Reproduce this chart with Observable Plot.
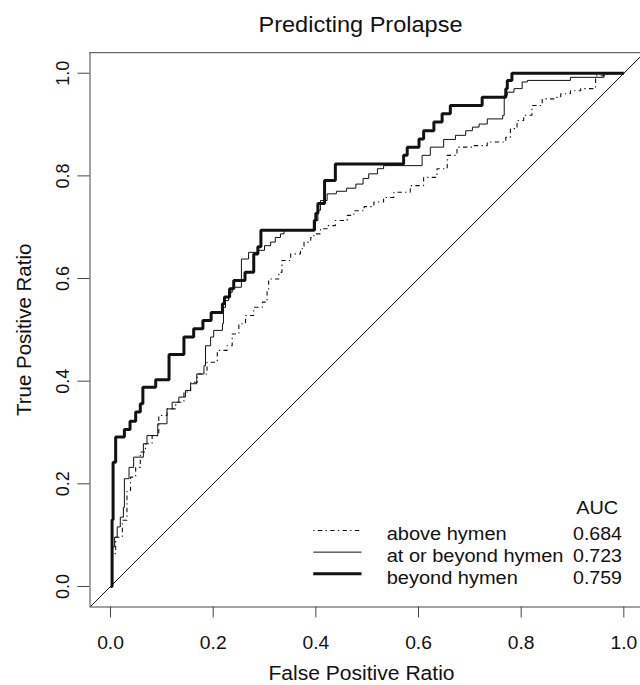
<!DOCTYPE html>
<html>
<head>
<meta charset="utf-8">
<script src="https://cdn.jsdelivr.net/npm/d3@7"></script>
<script src="https://cdn.jsdelivr.net/npm/@observablehq/plot@0.6"></script>
<style>
html, body { margin: 0; padding: 0; background: #fff; }
#chart svg { display: block; }
</style>
</head>
<body>
<div id="chart"></div>
<script>
// ---------- data ----------
const chartTitle = "Predicting Prolapse";
const xLabel = "False Positive Ratio";
const yLabel = "True Positive Ratio";
const seriesNames = ["above hymen", "at or beyond hymen", "beyond hymen"];
const aucHeader = "AUC";
const aucValues = ["0.684", "0.723", "0.759"];
const xTicks = [0, 0.2, 0.4, 0.6, 0.8, 1.0];
const yTicks = [0, 0.2, 0.4, 0.6, 0.8, 1.0];

// ROC curve corners (step-after)
const aboveFPR = [0, 0.003, 0.010, 0.023, 0.032, 0.039, 0.049, 0.058, 0.068, 0.081,
  0.094, 0.110, 0.127, 0.143, 0.156, 0.169, 0.188, 0.208, 0.227, 0.237,
  0.250, 0.263, 0.279, 0.296, 0.305, 0.308, 0.328, 0.334, 0.351, 0.370,
  0.377, 0.390, 0.396, 0.409, 0.422, 0.438, 0.461, 0.474, 0.494, 0.513,
  0.532, 0.552, 0.584, 0.610, 0.636, 0.656, 0.675, 0.708, 0.734, 0.770,
  0.779, 0.792, 0.805, 0.821, 0.841, 0.864, 0.877, 0.896, 0.916, 0.942,
  0.945, 0.968, 1.0];
const aboveTPR = [0, 0.064, 0.096, 0.129, 0.187, 0.213, 0.232, 0.262, 0.278, 0.294,
  0.333, 0.346, 0.359, 0.379, 0.398, 0.414, 0.437, 0.460, 0.469, 0.492,
  0.512, 0.528, 0.544, 0.554, 0.577, 0.599, 0.612, 0.635, 0.648, 0.658,
  0.671, 0.680, 0.687, 0.697, 0.703, 0.713, 0.723, 0.732, 0.740, 0.749,
  0.758, 0.768, 0.781, 0.797, 0.814, 0.840, 0.856, 0.859, 0.866, 0.875,
  0.892, 0.908, 0.918, 0.937, 0.950, 0.953, 0.960, 0.966, 0.970, 0.973,
  0.995, 0.999, 1.0];

const atFPR = [0, 0.004, 0.008, 0.013, 0.019, 0.025, 0.027, 0.036, 0.045, 0.064,
  0.071, 0.092, 0.110, 0.120, 0.133, 0.146, 0.156, 0.168, 0.182, 0.185,
  0.195, 0.201, 0.218, 0.220, 0.224, 0.230, 0.237, 0.255, 0.269, 0.287,
  0.300, 0.312, 0.321, 0.331, 0.338, 0.399, 0.404, 0.409, 0.422, 0.440,
  0.460, 0.478, 0.492, 0.503, 0.520, 0.532, 0.607, 0.623, 0.649, 0.672,
  0.692, 0.705, 0.718, 0.734, 0.764, 0.767, 0.773, 0.786, 0.802, 0.812,
  0.896, 0.961, 1.0];
const atTPR = [0, 0.077, 0.096, 0.116, 0.135, 0.154, 0.210, 0.232, 0.252, 0.278,
  0.294, 0.317, 0.346, 0.359, 0.369, 0.382, 0.395, 0.414, 0.430, 0.469,
  0.486, 0.499, 0.512, 0.544, 0.557, 0.573, 0.583, 0.638, 0.651, 0.655,
  0.664, 0.671, 0.680, 0.687, 0.694, 0.713, 0.733, 0.752, 0.765, 0.770,
  0.776, 0.784, 0.795, 0.804, 0.814, 0.820, 0.840, 0.856, 0.871, 0.879,
  0.888, 0.895, 0.901, 0.911, 0.918, 0.957, 0.963, 0.970, 0.983, 0.986,
  0.992, 0.999, 1.0];

const beyondFPR = [0, 0.003, 0.005, 0.010, 0.027, 0.038, 0.049, 0.058, 0.063, 0.088,
  0.114, 0.143, 0.162, 0.180, 0.196, 0.218, 0.222, 0.232, 0.240, 0.262,
  0.279, 0.287, 0.293, 0.397, 0.400, 0.404, 0.417, 0.438, 0.571, 0.578,
  0.601, 0.610, 0.630, 0.646, 0.662, 0.724, 0.770, 0.773, 0.782, 1.0];
const beyondTPR = [0, 0.130, 0.242, 0.291, 0.306, 0.322, 0.340, 0.356, 0.388, 0.403,
  0.452, 0.486, 0.502, 0.518, 0.534, 0.551, 0.564, 0.580, 0.596, 0.612,
  0.648, 0.662, 0.694, 0.713, 0.727, 0.746, 0.791, 0.823, 0.840, 0.856,
  0.872, 0.888, 0.905, 0.921, 0.937, 0.953, 0.970, 0.986, 1.0, 1.0];

// ---------- layout / style ----------
const xDomain = [-0.04, 1.0325];
const yDomain = [-0.04, 1.04];
const FONT = "'Liberation Sans', Arial, Helvetica, sans-serif";
const STRETCH = 1.07;           // horizontal text widening
const INK = "#111";
const styles = [
  {width: 1.1, dash: "1.3,3.3,4.4,3.3"},
  {width: 1, dash: null},
  {width: 3, dash: null}
];
const legend = {x1: 0.396, x2: 0.490, top: 0.1091, step: 0.0422, labelX: 0.538, aucX: 0.901, headX: 0.948, headY: 0.161};

const curves = [
  {fpr: aboveFPR, tpr: aboveTPR},
  {fpr: atFPR, tpr: atTPR},
  {fpr: beyondFPR, tpr: beyondTPR}
].map((c, i) => ({
  name: seriesNames[i],
  points: c.fpr.map((x, j) => ({x, y: c.tpr[j]})),
  style: styles[i]
}));

const legendRows = seriesNames.map((name, i) => ({name, auc: aucValues[i], ly: legend.top - i * legend.step, i}));

const marks = [];

// frame (left, bottom, top) as in R's box (right side outside the picture)
marks.push(Plot.ruleX([xDomain[0]], {stroke: "#444", strokeWidth: 1}));
marks.push(Plot.ruleY([yDomain[0], yDomain[1]], {stroke: "#444", strokeWidth: 1}));

// reference diagonal y = x across the plotting region
marks.push(Plot.line([yDomain[0], yDomain[1]], {x: d => d, y: d => d, stroke: INK, strokeWidth: 1, clip: true}));

// ROC curves
for (const c of curves) {
  marks.push(Plot.line(c.points, {
    x: "x", y: "y", curve: "step-after",
    stroke: INK, strokeWidth: c.style.width,
    strokeDasharray: c.style.dash || undefined,
    strokeLinejoin: "miter", strokeLinecap: "butt"
  }));
}

// legend samples
legendRows.forEach((r, i) => {
  marks.push(Plot.ruleY([r], {
    y: "ly", x1: () => legend.x1, x2: () => legend.x2,
    stroke: INK, strokeWidth: styles[i].width,
    strokeDasharray: styles[i].dash || undefined
  }));
});
marks.push(Plot.text(legendRows, {
  x: () => legend.labelX, y: "ly", text: "name", textAnchor: "start",
  lineAnchor: "bottom", dy: 10, fontSize: 18.7, fill: INK
}));
marks.push(Plot.text(legendRows, {
  x: () => legend.aucX, y: "ly", text: "auc", textAnchor: "start",
  lineAnchor: "bottom", dy: 10, fontSize: 18.3, fill: INK
}));
marks.push(Plot.text([aucHeader], {
  x: () => legend.headX, y: () => legend.headY, text: d => d, textAnchor: "middle",
  lineAnchor: "bottom", dy: 10, fontSize: 18.6, fill: INK
}));

// axes
marks.push(Plot.axisX(xTicks, {
  anchor: "bottom", tickSize: 11, tickPadding: 18.5, fontSize: 18,
  tickFormat: d3.format(".1f"), stroke: "#444", fill: INK, label: null
}));
marks.push(Plot.axisY(yTicks, {
  anchor: "left", tickSize: 12, tickPadding: 9.2, tickRotate: -90, fontSize: 18,
  tickFormat: d3.format(".1f"), stroke: "#444", fill: INK, label: null
}));

// title and axis labels
marks.push(Plot.text([chartTitle], {
  frameAnchor: "top", dx: -4.75, dy: -20.5, text: d => d,
  textAnchor: "middle", lineAnchor: "bottom", fontSize: 22, fill: INK
}));
marks.push(Plot.text([xLabel], {
  frameAnchor: "bottom", dx: -3.75, dy: 72.5, text: d => d,
  textAnchor: "middle", lineAnchor: "bottom", fontSize: 19.7, fill: INK
}));
marks.push(Plot.text([yLabel], {
  frameAnchor: "left", dx: -59.5, rotate: -90, text: d => d,
  textAnchor: "middle", lineAnchor: "bottom", fontSize: 20.5, fill: INK
}));

const plot = Plot.plot({
  width: 640,
  height: 685,
  marginLeft: 89.5,
  marginRight: 0,
  marginTop: 52.2,
  marginBottom: 78.5,
  style: {fontFamily: FONT, background: "#fff", color: INK},
  x: {domain: xDomain},
  y: {domain: yDomain},
  marks
});

document.getElementById("chart").append(plot);

// widen horizontal texts slightly to match the reference's proportions
plot.querySelectorAll("text").forEach(t => {
  const own = t.getAttribute("transform") || "";
  const parent = (t.parentNode && t.parentNode.getAttribute && t.parentNode.getAttribute("transform")) || "";
  if (/rotate/.test(own) || /rotate/.test(parent)) return;
  const len = t.getComputedTextLength();
  if (len > 0) {
    t.setAttribute("textLength", (len * STRETCH).toFixed(2));
    t.setAttribute("lengthAdjust", "spacingAndGlyphs");
  }
});
</script>
</body>
</html>
